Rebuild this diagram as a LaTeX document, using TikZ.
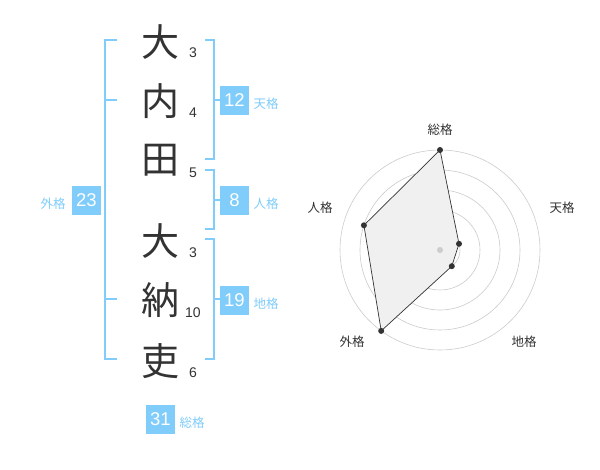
\documentclass[tikz,border=0pt]{standalone}
\usepackage{fontspec}
\setmainfont{Liberation Sans}
\newfontfamily\cjk{Noto Sans CJK JP}
\definecolor{sky}{RGB}{128,204,250}
\definecolor{ink}{RGB}{51,51,51}
\begin{document}
\begin{tikzpicture}[x=1pt,y=-1pt,
  kanji/.style={font=\cjk\fontsize{38}{38}\selectfont, text=ink, inner sep=0},
  strokes/.style={font=\fontsize{14}{14}\selectfont, text=ink, inner sep=0},
  numbox/.style={fill=sky, text=white, minimum width=29, minimum height=29, inner sep=0, font=\fontsize{18.5}{18.5}\selectfont},
  kaku/.style={text=sky, font=\cjk\fontsize{12.5}{12.5}\selectfont, inner sep=0},
  brk/.style={draw=sky, line width=1.6},
  ring/.style={draw=black!20, line width=0.6},
  axlabel/.style={text=ink, font=\cjk\fontsize{12.5}{12.5}\selectfont, inner sep=0},
  dot/.style={circle, fill=ink, inner sep=0, minimum size=6}
]
\useasboundingbox[fill=white] (0,0) rectangle (600,470);

% characters
\node[kanji] (c1) at (160,42) {大};
\node[kanji] (c2) at (160,101) {内};
\node[kanji] (c3) at (160,160) {田};
\node[kanji] (c4) at (160,241) {大};
\node[kanji] (c5) at (160,300) {納};
\node[kanji] (c6) at (160,361) {吏};
% stroke counts
\node[strokes] (s1) at (193,53) {3};
\node[strokes] (s2) at (193,113) {4};
\node[strokes] (s3) at (193,173) {5};
\node[strokes] (s4) at (193,253) {3};
\node[strokes] (s5) at (193,313) {10};
\node[strokes] (s6) at (193,373) {6};

% brackets
\draw[brk] (117,40) -- (105,40) -- (105,359) -- (117,359);
\draw[brk] (105,100) -- (117,100);
\draw[brk] (105,299) -- (117,299);
\draw[brk] (205,40) -- (214,40) -- (214,159) -- (205,159);
\draw[brk] (214,100) -- (220,100);
\draw[brk] (205,170) -- (214,170) -- (214,229) -- (205,229);
\draw[brk] (214,200) -- (220,200);
\draw[brk] (205,239) -- (214,239) -- (214,359) -- (205,359);
\draw[brk] (214,299) -- (220,299);

% boxes
\node[numbox] (ten) at (234.5,100.5) {12};
\node[kaku] (tenl) at (266,103.5) {天格};
\node[numbox] (jin) at (234.5,200.5) {8};
\node[kaku] (jinl) at (266,203.5) {人格};
\node[numbox] (chi) at (234.5,300.5) {19};
\node[kaku] (chil) at (266,303.5) {地格};
\node[numbox] (gai) at (86.5,200.5) {23};
\node[kaku] (gail) at (53,203.5) {外格};
\node[numbox] (sou) at (160.5,419) {31};
\node[kaku] (soul) at (192,422.5) {総格};

% radar
\foreach \r in {20,40,60,80,100} \draw[ring] (440,250) circle[radius=\r];
\coordinate (pS) at (440,150);
\coordinate (pT) at (459.0,243.8);
\coordinate (pC) at (451.8,266.2);
\coordinate (pG) at (381.2,330.9);
\coordinate (pJ) at (363.9,225.3);
\draw[fill=black!6, draw=ink, line width=0.7] (pS) -- (pT) -- (pC) -- (pG) -- (pJ) -- cycle;
\node[circle, fill=black!20, inner sep=0, minimum size=6] (ctr) at (440,250) {};
\foreach \p in {pS,pT,pC,pG,pJ} \node[dot] at (\p) {};
\node[axlabel] (aS) at (440,130) {総格};
\node[axlabel] (aT) at (562,208) {天格};
\node[axlabel] (aJ) at (320,208) {人格};
\node[axlabel] (aG) at (352,342) {外格};
\node[axlabel] (aC) at (524,342) {地格};
\end{tikzpicture}
\end{document}
